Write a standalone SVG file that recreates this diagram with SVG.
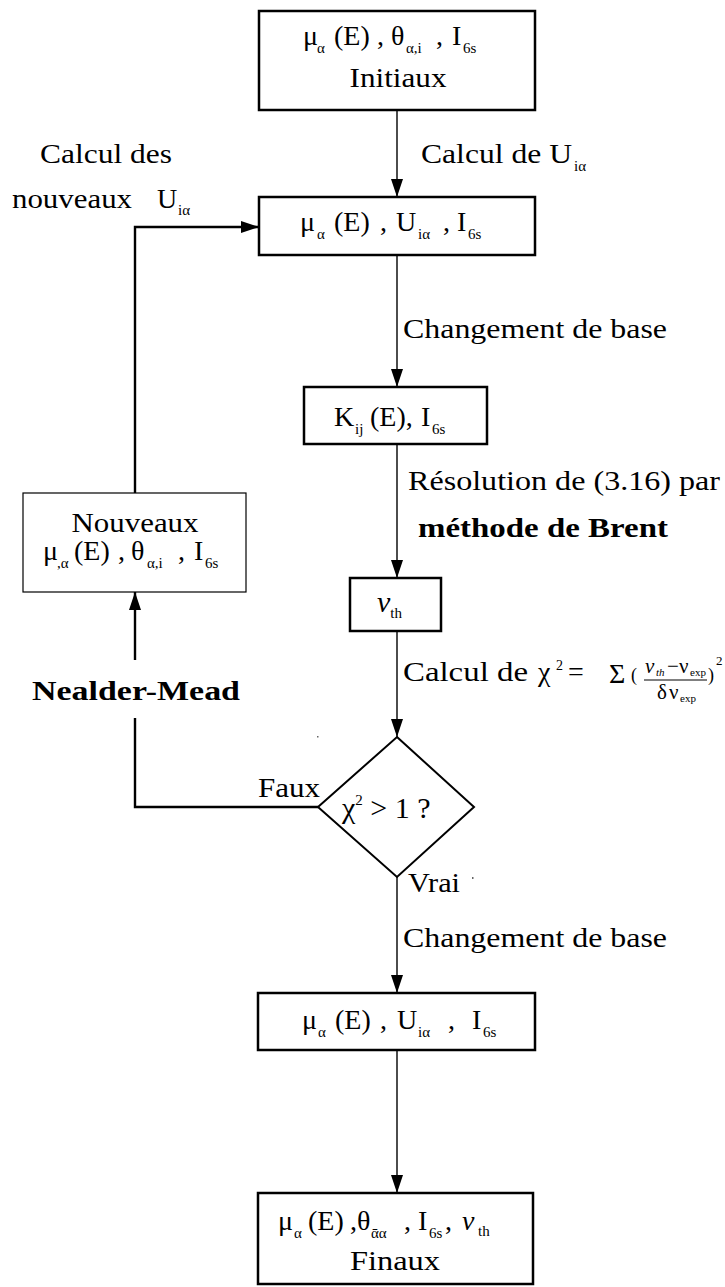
<svg xmlns="http://www.w3.org/2000/svg" width="725" height="1287" viewBox="0 0 725 1287">
<defs>
<style>
.t{font-family:"Liberation Serif","DejaVu Serif",serif;font-size:28px;fill:#000}
.s{font-size:15px}
.b{font-weight:bold}
.i{font-style:italic}
.box{fill:#fff;stroke:#000;stroke-width:2.5}
.thin{stroke-width:1.2}
.c{fill:none;stroke:#000;stroke-width:1.4}
.c2{stroke-width:2.4}
</style>
<marker id="ah" viewBox="0 0 18 12" refX="18" refY="6" markerWidth="18" markerHeight="12" markerUnits="userSpaceOnUse" orient="auto"><path d="M0,0 L18,6 L0,12 z" fill="#000"/></marker>
</defs>
<rect width="725" height="1287" fill="#fff"/>
<g id="connectors">
<line class="c" x1="397" y1="110" x2="397" y2="197" marker-end="url(#ah)"/>
<line class="c" x1="397" y1="255" x2="397" y2="387" marker-end="url(#ah)"/>
<line class="c" x1="397" y1="444" x2="397" y2="578" marker-end="url(#ah)"/>
<line class="c" x1="397" y1="631" x2="397" y2="737" marker-end="url(#ah)"/>
<line class="c" x1="397" y1="877" x2="397" y2="993" marker-end="url(#ah)"/>
<line class="c" x1="397" y1="1050" x2="397" y2="1193" marker-end="url(#ah)"/>
<polyline class="c c2" points="318,807 135,807 135,718"/>
<line class="c c2" x1="135" y1="660" x2="135" y2="592" marker-end="url(#ah)"/>
<polyline class="c c2" points="135,493 135,227 259,227" marker-end="url(#ah)"/>
</g>
<g id="n-initiaux">
<rect class="box" x="259" y="11" width="276" height="99"/>
<text class="t" y="45"><tspan x="303">μ</tspan><tspan class="s" x="317" y="53">α</tspan><tspan x="334" y="45">(E)</tspan><tspan x="377">,</tspan><tspan x="391">θ</tspan><tspan class="s" x="406" y="53">α,i</tspan><tspan x="436" y="45">,</tspan><tspan x="452">I</tspan><tspan class="s" x="463" y="53">6s</tspan></text>
<text class="t" x="398" y="87" text-anchor="middle" textLength="97" lengthAdjust="spacingAndGlyphs">Initiaux</text>
</g>
<g id="n-u">
<rect class="box" x="259" y="197" width="276" height="58"/>
<text class="t" y="231"><tspan x="300">μ</tspan><tspan class="s" x="317" y="239">α</tspan><tspan x="334" y="231">(E)</tspan><tspan x="380">,</tspan><tspan x="396">U</tspan><tspan class="s" x="418" y="239">iα</tspan><tspan x="443" y="231">,</tspan><tspan x="457">I</tspan><tspan class="s" x="468" y="239">6s</tspan></text>
</g>
<g id="n-k">
<rect class="box" x="304" y="387" width="183" height="57"/>
<text class="t" y="426"><tspan x="334">K</tspan><tspan class="s" x="355" y="434">ij</tspan><tspan x="370" y="426">(E),</tspan><tspan x="421">I</tspan><tspan class="s" x="432" y="434">6s</tspan></text>
</g>
<g id="n-nu">
<rect class="box" x="350" y="578" width="91" height="53"/>
<text class="t" x="377" y="612" style="font-size:30px"><tspan class="i">ν</tspan><tspan class="s" dy="6">th</tspan></text>
</g>
<g id="n-test">
<polygon points="397,737 474,807 397,877 318,807" fill="#fff" stroke="#000" stroke-width="2"/>
<text class="t" x="342" y="818" style="font-size:30px">χ<tspan class="s" dy="-13">2</tspan><tspan dy="13"> &gt; 1 ?</tspan></text>
</g>
<g id="n-nouveaux">
<rect class="box thin" x="23" y="493" width="223" height="99"/>
<text class="t" x="135" y="532" text-anchor="middle" textLength="127" lengthAdjust="spacingAndGlyphs">Nouveaux</text>
<text class="t" y="560"><tspan x="43">μ</tspan><tspan class="s" x="57" y="568">,α</tspan><tspan x="74" y="560">(E)</tspan><tspan x="118">,</tspan><tspan x="131">θ</tspan><tspan class="s" x="147" y="568">α,i</tspan><tspan x="178" y="560">,</tspan><tspan x="194">I</tspan><tspan class="s" x="205" y="568">6s</tspan></text>
</g>
<g id="n-u2">
<rect class="box" x="258" y="993" width="277" height="57"/>
<text class="t" y="1029"><tspan x="302">μ</tspan><tspan class="s" x="318" y="1037">α</tspan><tspan x="335" y="1029">(E)</tspan><tspan x="380">,</tspan><tspan x="397">U</tspan><tspan class="s" x="418" y="1037">iα</tspan><tspan x="448" y="1029">,</tspan><tspan x="472">I</tspan><tspan class="s" x="483" y="1037">6s</tspan></text>
</g>
<g id="n-finaux">
<rect class="box" x="258" y="1193" width="275" height="91"/>
<text class="t" y="1230"><tspan x="278">μ</tspan><tspan class="s" x="294" y="1238">α</tspan><tspan x="308" y="1230">(E)</tspan><tspan x="350">,θ</tspan><tspan class="s" x="371" y="1238">ᾱα</tspan><tspan x="404" y="1230">,</tspan><tspan x="418">I</tspan><tspan class="s" x="429" y="1238">6s</tspan><tspan x="445" y="1230">,</tspan><tspan class="i" x="462">ν</tspan><tspan class="s" x="478" y="1236">th</tspan></text>
<text class="t" x="395" y="1270" text-anchor="middle" textLength="90" lengthAdjust="spacingAndGlyphs">Finaux</text>
</g>
<g id="labels">
<text class="t" y="163"><tspan x="421" textLength="151" lengthAdjust="spacingAndGlyphs">Calcul de U</tspan><tspan class="s" x="574" y="171">iα</tspan></text>
<text class="t" x="40" y="163" textLength="132" lengthAdjust="spacingAndGlyphs">Calcul des</text>
<text class="t" y="208"><tspan x="12" textLength="120" lengthAdjust="spacingAndGlyphs">nouveaux</tspan><tspan x="157">U</tspan><tspan class="s" x="178" y="215">iα</tspan></text>
<text class="t" x="403" y="338" textLength="264" lengthAdjust="spacingAndGlyphs">Changement de base</text>
<text class="t" x="408" y="490" textLength="312" lengthAdjust="spacingAndGlyphs">Résolution de (3.16) par</text>
<text class="t b" x="418" y="537" textLength="250" lengthAdjust="spacingAndGlyphs">méthode de Brent</text>
<text class="t" x="403" y="681" textLength="125" lengthAdjust="spacingAndGlyphs">Calcul de</text>
<text class="t" x="538" y="681">χ</text>
<text class="t" x="556" y="670" style="font-size:14px">2</text>
<text class="t" x="568" y="681">=</text>
<text class="t" x="609" y="683" style="font-size:28px">Σ</text>
<text class="t" x="631" y="681" style="font-size:18px">(</text>
<text class="t" y="673" style="font-size:21px"><tspan class="i" x="645">ν</tspan><tspan class="i" style="font-size:11px" x="656" y="676">th</tspan><tspan x="667" y="673">−</tspan><tspan x="679">ν</tspan><tspan style="font-size:11px" x="690" y="676">exp</tspan></text>
<line x1="644" y1="680" x2="707" y2="680" stroke="#000" stroke-width="1"/>
<text class="t" y="699" style="font-size:21px"><tspan x="657">δ</tspan><tspan x="669">ν</tspan><tspan style="font-size:11px" x="680" y="702">exp</tspan></text>
<text class="t" x="708" y="681" style="font-size:18px">)</text>
<text class="t" x="716" y="665" style="font-size:13px">2</text>
<text class="t b" x="32" y="700" textLength="208" lengthAdjust="spacingAndGlyphs">Nealder-Mead</text>
<text class="t" x="258" y="797" textLength="62" lengthAdjust="spacingAndGlyphs">Faux</text>
<text class="t" x="408" y="892" textLength="52" lengthAdjust="spacingAndGlyphs">Vrai</text>
<text class="t" x="403" y="947" textLength="264" lengthAdjust="spacingAndGlyphs">Changement de base</text>
<rect x="317" y="736" width="1.5" height="1.5" fill="#666"/>
<rect x="472" y="877" width="1.5" height="2" fill="#666"/>
</g>
</svg>
